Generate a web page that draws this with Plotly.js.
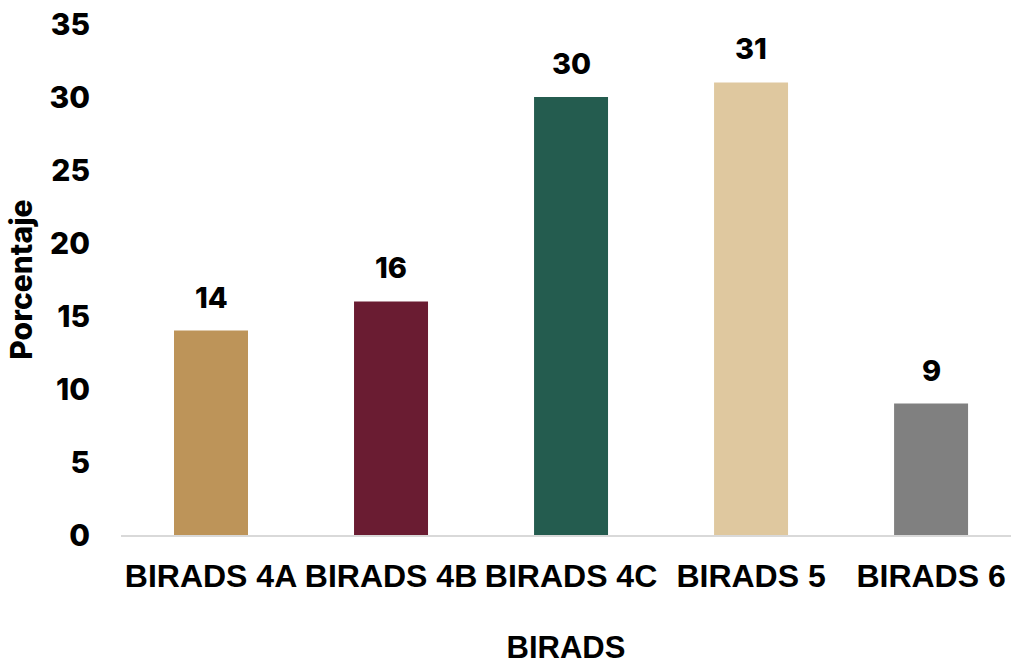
<!DOCTYPE html>
<html>
<head>
<meta charset="utf-8">
<script src="https://cdn.plot.ly/plotly-3.0.1.min.js"></script>
<style>html,body{margin:0;padding:0;background:#fff;}#chart{width:1011px;height:665px;}</style>
</head>
<body>
<div id="chart"></div>
<script>
const categories = ["BIRADS 4A", "BIRADS 4B", "BIRADS 4C", "BIRADS 5", "BIRADS 6"];
const values = [14, 16, 30, 31, 9];
const colors = ["#BD9459", "#6A1C32", "#245C4F", "#DFC89F", "#808080"];
const yTicks = [0, 5, 10, 15, 20, 25, 30, 35];
const numFont = "Inter, 'Open Sans', sans-serif";
const catFont = "'Liberation Sans', Arial, sans-serif";

const trace = {
  type: "bar",
  x: categories,
  y: values,
  marker: {color: colors},
  hoverinfo: "skip"
};

const annotations = categories.map((c, i) => ({
  x: c, y: values[i], xref: "x", yref: "y",
  text: String(values[i]), showarrow: false,
  yanchor: "bottom", yshift: 14,
  font: {family: numFont, size: 29, color: "#000", weight: 800}
}));

const layout = {
  width: 1011, height: 665,
  margin: {l: 121, r: 0, t: 24, b: 130},
  paper_bgcolor: "#fff", plot_bgcolor: "#fff",
  showlegend: false,
  bargap: 0.589,
  xaxis: {
    type: "category",
    range: [-0.5, 4.444],
    showline: true, linecolor: "#D9D9D9", linewidth: 2,
    showgrid: false, zeroline: false,
    tickangle: 0,
    ticks: "outside", ticklen: 12, tickcolor: "rgba(0,0,0,0)",
    tickfont: {family: catFont, size: 32, color: "#000", weight: "bold"},
    title: {text: "BIRADS", standoff: 44, font: {family: catFont, size: 31, color: "#000", weight: "bold"}}
  },
  yaxis: {
    range: [0, 35],
    tickvals: yTicks,
    showline: false, showgrid: false, zeroline: false,
    ticks: "outside", ticklen: 24, tickcolor: "rgba(0,0,0,0)",
    tickfont: {family: numFont, size: 30, color: "#000", weight: 800},
    title: {text: "Porcentaje", standoff: 8, font: {family: numFont, size: 30, color: "#000", weight: 800}}
  },
  annotations: annotations
};

Plotly.newPlot("chart", [trace], layout, {displayModeBar: false, staticPlot: true});
</script>
</body>
</html>
